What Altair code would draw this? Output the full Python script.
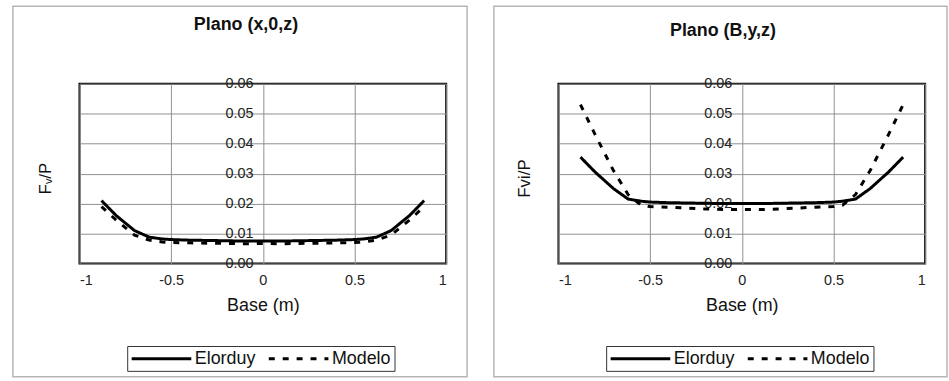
import altair as alt
import pandas as pd

x_pos = [-0.88, -0.8, -0.7, -0.62, -0.55, -0.5, -0.4, -0.3, -0.2, -0.1, 0.0,
         0.1, 0.2, 0.3, 0.4, 0.5, 0.55, 0.62, 0.7, 0.8, 0.88]

elorduy_xz = [0.021, 0.016, 0.011, 0.0088, 0.0082, 0.008, 0.0078, 0.0077, 0.0076, 0.0075, 0.0075,
              0.0075, 0.0076, 0.0077, 0.0078, 0.008, 0.0082, 0.0088, 0.011, 0.016, 0.021]
modelo_xz = [0.019, 0.0145, 0.0095, 0.0078, 0.0072, 0.007, 0.0069, 0.0068, 0.0067, 0.0066, 0.0067,
             0.0066, 0.0067, 0.0068, 0.0069, 0.007, 0.0072, 0.0078, 0.0095, 0.0145, 0.019]

elorduy_byz = [0.0355, 0.0305, 0.025, 0.0215, 0.0208, 0.0205, 0.0203, 0.0202, 0.0201, 0.02, 0.02,
               0.02, 0.0201, 0.0202, 0.0203, 0.0205, 0.0208, 0.0215, 0.025, 0.0305, 0.0355]
modelo_byz = [0.053, 0.043, 0.031, 0.023, 0.0195, 0.019, 0.0188, 0.0185, 0.0182, 0.018, 0.018,
              0.018, 0.0182, 0.0185, 0.0188, 0.019, 0.0195, 0.023, 0.031, 0.043, 0.053]

series = ["Elorduy", "Modelo"]
x_ticks = [-1, -0.5, 0, 0.5, 1]
y_ticks = [0.0, 0.01, 0.02, 0.03, 0.04, 0.05, 0.06]

FONT = "Liberation Sans"
W, H = 369, 181


def make_df(e, m):
    return pd.DataFrame({
        "x": x_pos + x_pos,
        "y": e + m,
        "serie": [series[0]] * len(x_pos) + [series[1]] * len(x_pos),
    })


def panel(df, title, ytitle, frame, title_offset, title_dx):
    base = alt.Chart(df).encode(
        x=alt.X("x:Q", scale=alt.Scale(domain=[-1, 1], nice=False, zero=False),
                axis=alt.Axis(values=x_ticks, labelExpr="'' + datum.value", title="Base (m)",
                              grid=True, gridColor="#909090", gridWidth=1, domain=False,
                              ticks=False, labelPadding=10, labelFontSize=14.5, labelFont=FONT,
                              labelColor="#222", titleFont=FONT, titleFontSize=18,
                              titleFontWeight="normal", titleColor="#111", titlePadding=10)),
        y=alt.Y("y:Q", scale=alt.Scale(domain=[0, 0.06], nice=False),
                axis=alt.Axis(values=y_ticks, format=".2f", title=ytitle, orient="left",
                              offset=-W / 2, grid=True, gridColor="#909090", gridWidth=1,
                              domain=False, ticks=False, labelPadding=10, labelFontSize=14.5,
                              labelFont=FONT, labelColor="#222", titleFont=FONT,
                              titleFontSize=17, titleFontWeight="normal", titleColor="#111",
                              titleX=-W / 2 - 34, titleY=95, titleBaseline="middle")),
        strokeDash=alt.StrokeDash("serie:N", scale=alt.Scale(domain=series, range=[[1, 0], [6, 8]]),
                                  legend=alt.Legend(orient="none", legendX=48, legendY=264,
                                                    direction="horizontal", title=None,
                                                    symbolType="M-1,0L6.5,0", symbolSize=256,
                                                    symbolStrokeWidth=3, symbolStrokeColor="black",
                                                    labelFontSize=18, labelFont=FONT,
                                                    labelColor="#111", labelOffset=46,
                                                    columnPadding=6, strokeColor="#333",
                                                    fillColor="white", padding=3)),
    )
    lines = base.mark_line(color="black", strokeWidth=3, strokeCap="butt")
    fr = alt.Chart(pd.DataFrame({"k": [0]})).mark_rect(
        fill="transparent", stroke="#b5b5b5", strokeWidth=1.5
    ).encode(x=alt.value(frame[0]), x2=alt.value(frame[1]), y=alt.value(frame[2]), y2=alt.value(frame[3]))
    return alt.layer(fr, lines).properties(
        width=W, height=H,
        title=alt.TitleParams(title, font=FONT, fontSize=18, fontWeight="bold", color="#111",
                              anchor="middle", offset=title_offset, dx=title_dx),
    )


left = panel(make_df(elorduy_xz, modelo_xz), "Plano (x,0,z)", "Fᵥ/P", (-67, 390, -78, 295), -29, -17)
right = panel(make_df(elorduy_byz, modelo_byz), "Plano (B,y,z)", "Fvi/P", (-65, 391, -78, 295), -35, -19)

chart = alt.hconcat(left, right, spacing=23).resolve_scale(strokeDash="independent").configure(
    padding={"left": 11, "top": 3, "right": 0, "bottom": 0}, background="white"
).configure_view(stroke="black", strokeWidth=2)

chart.save("out.html", embed_options={"renderer": "svg", "actions": False})
